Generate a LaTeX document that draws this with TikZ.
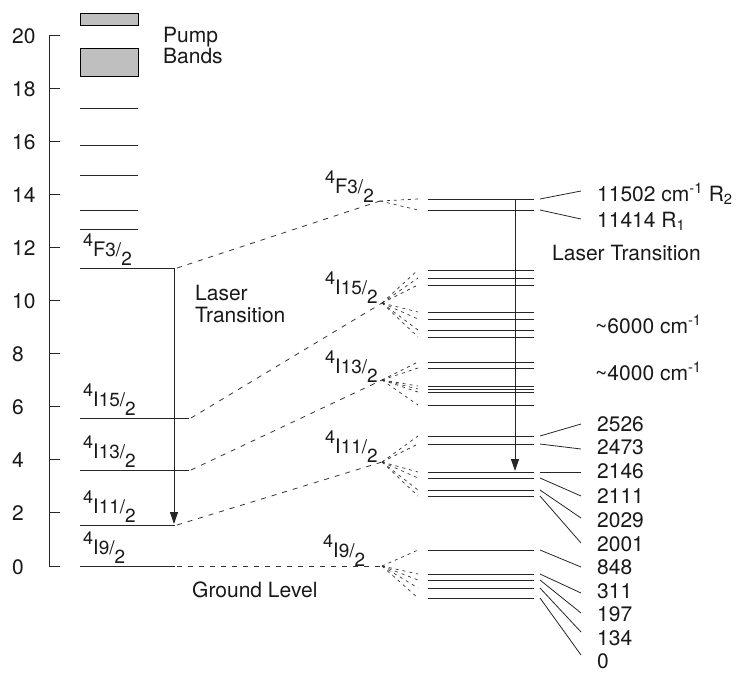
\documentclass[tikz,border=0pt]{standalone}
\usepackage{fontspec}
\setmainfont{TeX Gyre Heros}
\usetikzlibrary{arrows.meta}
\newcommand\myterm[3]{\raisebox{10pt}{\fontsize{18}{18}\selectfont 4}{\fontsize{20}{20}\selectfont #1}{\fontsize{19}{19}\selectfont #2/\raisebox{-9pt}{#3}}}
\begin{document}
\begin{tikzpicture}[x=1pt,y=-1pt,
  lvl/.style={line width=0.9pt,draw=black!85},
  dsh/.style={dash pattern=on 5pt off 6pt,line width=0.8pt,draw=black!80},
  fan/.style={dash pattern=on 3pt off 4pt,line width=0.7pt,draw=black!80},
  con/.style={line width=0.8pt,draw=black!85},
  lab/.style={font=\fontsize{21}{24}\selectfont,inner sep=0pt,anchor=base west,text=black!90},
  trm/.style={inner sep=0pt,anchor=base west,text=black!90},
  band/.style={draw=black,line width=0.7pt,fill=black!25},
  tip/.style={-{Triangle[length=12pt,width=8pt]}}]
\useasboundingbox (0,0) rectangle (749,672);
% axis
\coordinate (axtop) at (49,35);
\coordinate (axbot) at (49,566);
\draw[lvl] (axtop) -- (axbot);
\foreach \e in {0,2,...,20}{
  \coordinate (tk\e) at (49,{566-26.55*\e});
  \draw[lvl] (tk\e) -- ++(11,0);
  \node[lab] (tl\e) at (12,{566-26.55*\e+8}) {\e};
}
% pump bands
\draw[band] (80,13) rectangle (138,25);
\draw[band] (80,48) rectangle (138,76);
\node[lab] (pump) at (163,42) {Pump};
\node[lab] (bands) at (163,63) {Bands};
% upper levels
\foreach \y in {108,145,175,210,229}{\draw[lvl] (80,\y) -- (138,\y);}
% main left levels
\coordinate (LF0) at (80,268);  \coordinate (LF) at (175,268);
\coordinate (L150) at (80,418); \coordinate (L15) at (189,418);
\coordinate (L130) at (80,470); \coordinate (L13) at (189,470);
\coordinate (L110) at (80,525); \coordinate (L11) at (175,525);
\coordinate (L90) at (80,566);  \coordinate (L9) at (175,566);
\foreach \a/\b in {LF0/LF,L150/L15,L130/L13,L110/L11,L90/L9}{\draw[lvl] (\a) -- (\b);}
% left labels
\node[trm] (tF) at (83,256) {\myterm{F}{3}{2}};
\node[trm] (t15) at (83,406) {\myterm{I}{15}{2}};
\node[trm] (t13) at (83,458) {\myterm{I}{13}{2}};
\node[trm] (t11) at (83,513) {\myterm{I}{11}{2}};
\node[trm] (t9) at (83,554) {\myterm{I}{9}{2}};
% left laser arrow
\coordinate (aL1) at (174,268);
\coordinate (aL2) at (174,524);
\draw[lvl,tip] (aL1) -- (aL2);
\node[lab] (laser1) at (195,300) {Laser};
\node[lab] (laser2) at (195,322) {Transition};
\node[lab] (ground) at (192,597) {Ground Level};
% convergence points
\coordinate (cF) at (380,201);
\coordinate (c15) at (382,303);
\coordinate (c13) at (382,380);
\coordinate (c11) at (382,462);
\coordinate (c9) at (382,566);
\draw[dsh] ([xshift=2pt]LF) -- (cF);
\draw[dsh] ([xshift=2pt]L15) -- (c15);
\draw[dsh] ([xshift=2pt]L13) -- (c13);
\draw[dsh] ([xshift=2pt]L11) -- (c11);
\draw[dsh] ([xshift=2pt]L9) -- (c9);
% middle labels
\node[trm] (mF) at (325,193) {\myterm{F}{3}{2}};
\node[trm] (m15) at (325,294) {\myterm{I}{15}{2}};
\node[trm] (m13) at (325,373) {\myterm{I}{13}{2}};
\node[trm] (m11) at (325,453) {\myterm{I}{11}{2}};
\node[trm] (m9) at (323,557) {\myterm{I}{9}{2}};
% right levels with fans
\foreach \c/\ys in {cF/{199,210},c15/{270,278,285,312,319,330,337},c13/{362,368,386,389,392,405},c11/{436,444,472,478,490,496},c9/{550,574,580,588,598}}{
  \foreach \y in \ys {
    \coordinate (rl\y) at (428,\y);
    \coordinate (rr\y) at (534,\y);
    \coordinate (fe\y) at (418,\y);
    \draw[lvl] (rl\y) -- (rr\y);
    \draw[fan] (\c) -- (fe\y);
  }
}
% right laser arrow
\coordinate (aR1) at (515,199);
\coordinate (aR2) at (515,471);
\draw[lvl,tip] (aR1) -- (aR2);
% right connectors and labels
\foreach \y/\ey/\bl/\txt in {
  199/191/201/{11502 cm\textsuperscript{-1} R\textsubscript{2}},
  210/219/227/{11414 R\textsubscript{1}},
  436/424/431/2526, 444/449/454/2473, 472/472/478/2146, 478/496/503/2111,
  490/518/527/2029, 496/543/551/2001, 550/567/574/848, 574/593/598/311,
  580/613/621/197, 588/632/645/134, 598/655/668/0}{
  \coordinate (ce\y) at (581,\ey);
  \draw[con] ([xshift=6pt]rr\y) -- (ce\y);
  \node[lab] (rlab\y) at (597,\bl) {\txt};
}
\node[lab] (laserR) at (552,260) {Laser Transition};
\node[lab] (w6000) at (595,333) {\textasciitilde6000 cm\textsuperscript{-1}};
\node[lab] (w4000) at (595,380) {\textasciitilde4000 cm\textsuperscript{-1}};
\end{tikzpicture}
\end{document}
